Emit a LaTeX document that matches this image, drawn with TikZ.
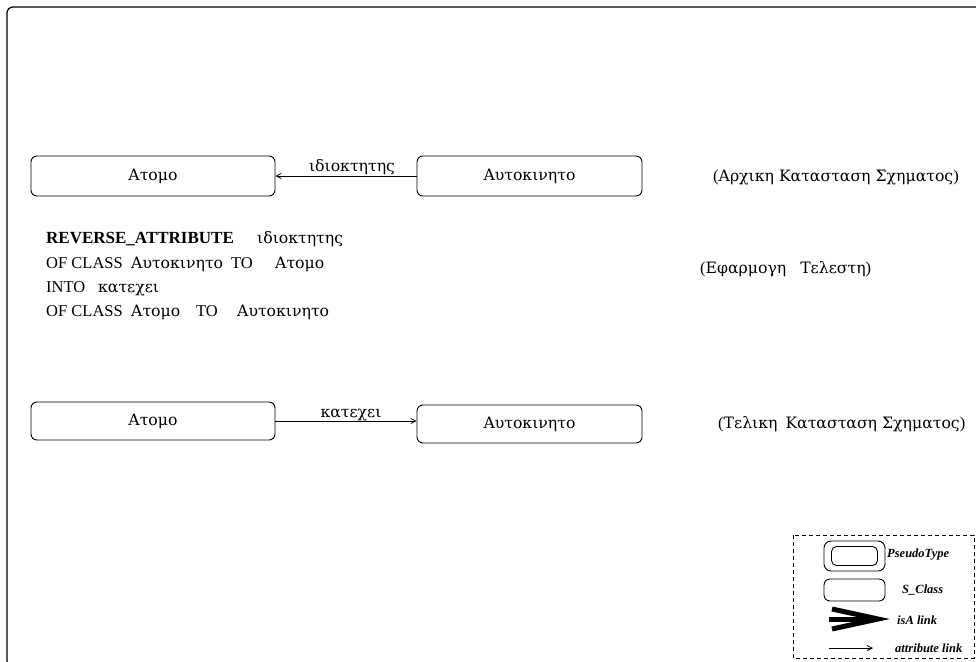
\documentclass[tikz,border=0pt]{standalone}
\usepackage{fontspec}
\setmainfont{Liberation Serif}
\newfontfamily\gr[Scale=0.95]{DejaVu Serif}
\usetikzlibrary{arrows.meta}
\tikzset{
  classbox/.style={draw, line width=0.9pt, rounded corners=6pt, inner sep=0pt},
  txt/.style={font=\fontsize{16.5}{19}\selectfont, inner sep=0pt},
  legtxt/.style={font=\fontsize{12.5}{14}\selectfont\bfseries\itshape, inner sep=0pt, anchor=west},
  attr/.style={line width=0.8pt, -{Straight Barb[length=5pt,width=5pt,line width=0.8pt]}},
}
\begin{document}
\begin{tikzpicture}[x=1pt,y=-1pt]
\useasboundingbox (0,0) rectangle (976,661);
\clip (0,0) rectangle (976,661);
% outer frame
\draw[line width=1.2pt, rounded corners=6pt] (7,667) rectangle (990,7);

% initial schema
\node[classbox, minimum width=244pt, minimum height=40pt] (a1) at (153,176) {};
\node[txt] (a1t) at (a1.center) {\gr Ατομο};
\node[classbox, minimum width=225pt, minimum height=40pt] (b1) at (529.5,176) {};
\node[txt] (b1t) at (b1.center) {\gr Αυτοκινητο};
\draw[attr] (b1.west) -- (b1.west -| a1.east);
\node[txt, anchor=base] (l1) at (352,171) {\gr ιδιοκτητης};
\node[txt, anchor=west] (r1) at (713,178) {({\gr Αρχικη Κατασταση Σχηματος})};

% operator text
\node[txt, anchor=base west] (w11) at (46,243) {\fontsize{17}{19}\selectfont\textbf{REVERSE\_ATTRIBUTE}};
\node[txt, anchor=base west] (w12) at (257,243) {\gr ιδιοκτητης};
\node[txt, anchor=base west] (w21) at (46,268) {OF CLASS};
\node[txt, anchor=base west] (w22) at (131,268) {\gr Αυτοκινητο};
\node[txt, anchor=base west] (w23) at (231,268) {TO};
\node[txt, anchor=base west] (w24) at (275,268) {\gr Ατομο};
\node[txt, anchor=base west] (w31) at (46,292) {INTO};
\node[txt, anchor=base west] (w32) at (98,292) {\gr κατεχει};
\node[txt, anchor=base west] (w41) at (46,316) {OF CLASS};
\node[txt, anchor=base west] (w42) at (131,316) {\gr Ατομο};
\node[txt, anchor=base west] (w43) at (196,316) {TO};
\node[txt, anchor=base west] (w44) at (237,316) {\gr Αυτοκινητο};
\node[txt, anchor=west] (r2) at (700,269) {({\gr Εφαρμογη\hspace{9pt} Τελεστη})};

% final schema
\node[classbox, minimum width=244pt, minimum height=38pt] (a2) at (153,421) {};
\node[txt] (a2t) at (a2.center) {\gr Ατομο};
\node[classbox, minimum width=225pt, minimum height=38pt] (b2) at (529.5,424) {};
\node[txt] (b2t) at (b2.center) {\gr Αυτοκινητο};
\draw[attr] (a2.east) -- (a2.east -| b2.west);
\node[txt, anchor=base] (l2) at (351,417) {\gr κατεχει};
\node[txt, anchor=west] (r3) at (718,424) {({\gr Τελικη\hspace{3pt} Κατασταση Σχηματος})};

% legend
\draw[dashed, line width=0.8pt, dash pattern=on 4pt off 3pt] (793,535) rectangle (974,658);
\node[classbox, rounded corners=7pt, minimum width=61pt, minimum height=30pt] (pt) at (854.5,556) {};
\node[classbox, rounded corners=5pt, minimum width=46pt, minimum height=19pt] (pti) at (pt.center) {};
\node[legtxt] (ptl) at (887,555) {PseudoType};
\node[classbox, minimum width=61pt, minimum height=22pt] (sc) at (854.5,590) {};
\node[legtxt] (scl) at (902,590) {S\_Class};
\coordinate (isa0) at (829,619);
\coordinate (isa1) at (878,619);
\draw[line width=5pt, line cap=butt] (isa0) -- ([xshift=-6pt]isa1);
\draw[line width=5pt, line join=miter, miter limit=20] (832,609) -- (isa1) -- (832,629);
\node[legtxt] (isal) at (897,620) {isA link};
\coordinate (at0) at (829,648);
\coordinate (at1) at (873,648);
\draw[attr] (at0) -- (at1);
\node[legtxt] (atl) at (895,648) {attribute link};
\end{tikzpicture}
\end{document}
